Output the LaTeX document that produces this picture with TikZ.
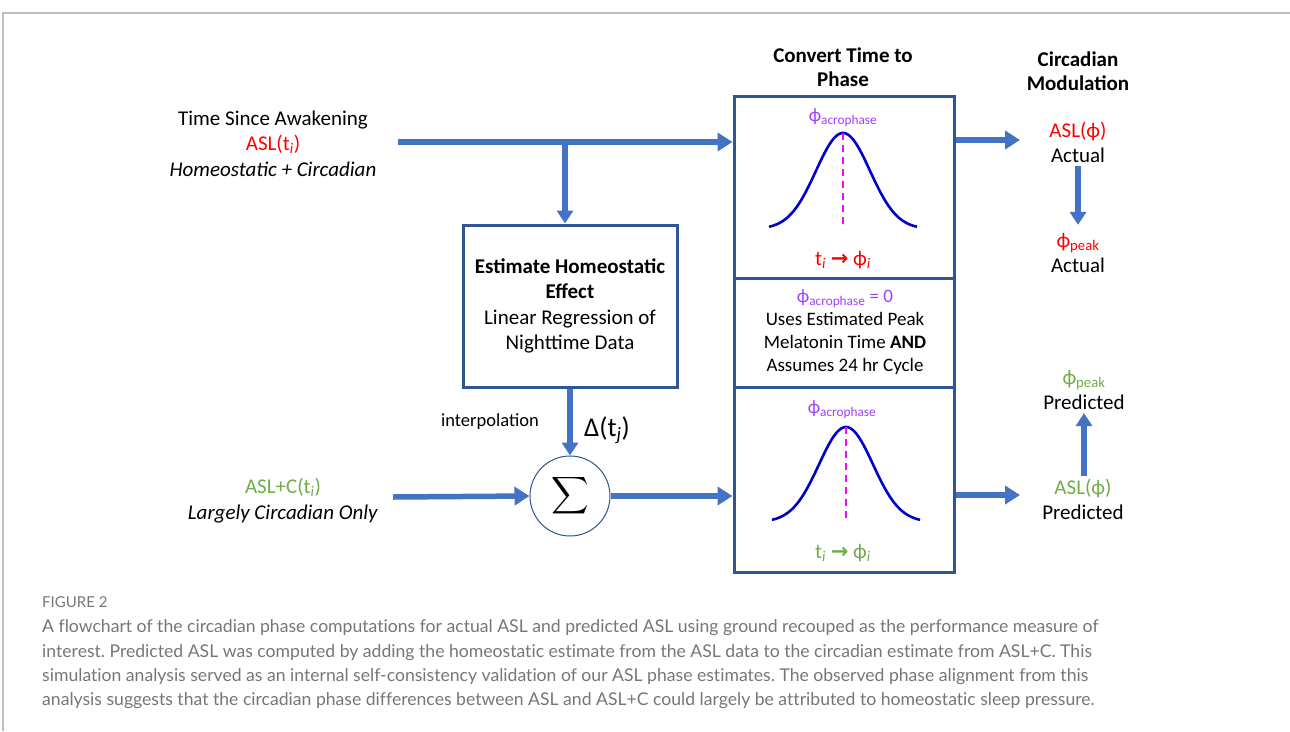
\documentclass[tikz,border=0pt]{standalone}
\usepackage{fontspec}
\setmainfont{Carlito}
\newfontfamily\dv{DejaVu Sans}
\newfontfamily\capfont[Ligatures={NoCommon,NoContextual,NoRequired}]{Lato}
\usetikzlibrary{arrows.meta}
\definecolor{flowblue}{RGB}{68,114,196}
\definecolor{boxblue}{RGB}{47,85,151}
\definecolor{myred}{RGB}{255,0,0}
\definecolor{mygreen}{RGB}{112,173,71}
\definecolor{mypurple}{RGB}{160,64,255}
\definecolor{mymag}{RGB}{255,0,255}
\definecolor{curveblue}{RGB}{0,0,204}
\definecolor{capgray}{RGB}{118,118,118}
\definecolor{rulegray}{RGB}{190,190,190}
\newcommand{\phs}{ϕ}
\newcommand{\arrw}{{\dv\bfseries →}}
\begin{document}
\begin{tikzpicture}[x=1pt,y=-1pt,
  flow/.style={draw=flowblue, line width=5.5pt, -{Triangle[length=15pt,width=18pt]}},
  vflow/.style={draw=flowblue, line width=5.5pt, -{Triangle[length=13pt,width=16pt]}},
  big/.style={font=\fontsize{21}{25.5}\selectfont, align=center, inner sep=0pt},
  mid/.style={font=\fontsize{19}{22.8}\selectfont, align=center, inner sep=0pt},
  phasebox/.style={draw=boxblue, line width=3pt, minimum width=220pt, inner sep=0pt},
  bell/.style={draw=curveblue, line width=2.6pt},
  peakline/.style={draw=mymag, line width=2.6pt, dash pattern=on 7pt off 5pt},
  capline/.style={font=\capfont\frenchspacing\fontsize{17.6}{21}\selectfont, text=capgray, anchor=west, inner sep=0pt}
]
\useasboundingbox (0,0) rectangle (1290,731);
% frame rules
\draw[rulegray, line width=1.2pt] (3,731) -- (3,13) -- (1290,13);

% left inputs
\node[big] (src1) at (273,143.5) {Time Since Awakening\\\textcolor{myred}{ASL(t\textsubscript{\textit{i}})}\\\textit{Homeostatic + Circadian}};
\node[big] (src2) at (283,500.5) {\textcolor{mygreen}{ASL+C(t\textsubscript{\textit{i}})}\\\textit{Largely Circadian Only}};

% estimate box
\node[draw=boxblue, line width=3pt, minimum width=214pt, minimum height=162pt, big] (est) at (570,306)
  {\textbf{Estimate Homeostatic}\\\textbf{Effect}\\Linear Regression of\\Nighttime Data};

% sum
\node[circle, draw=boxblue, line width=1pt, minimum size=80pt, inner sep=0pt, fill=white] (sum) at (570,496)
  {\scalebox{2.6}{$\displaystyle\sum$}};

\node[font=\fontsize{18.5}{22}\selectfont, inner sep=0pt] (interp) at (490,422) {interpolation};
\node[font=\fontsize{27}{30}\selectfont, inner sep=0pt] (delta) at (607,430) {Δ(t\textsubscript{\textit{j}})};

% headers
\node[big, font=\bfseries\fontsize{21}{24}\selectfont] (hconv) at (843,67) {Convert Time to\\Phase};
\node[big, font=\bfseries\fontsize{21}{24}\selectfont] (hcirc) at (1078,71) {Circadian\\Modulation};

% phase boxes
\node[phasebox, minimum height=182pt] (phaseTop) at (844,187) {};
\node[phasebox, minimum height=109pt] (phaseMid) at (844,332.5) {};
\node[phasebox, minimum height=185pt] (phaseBot) at (844,479.5) {};

% top box content
\node[mid, text=mypurple] (acT) at (843,118) {\phs\textsubscript{acrophase}};
\draw[bell] plot[domain=-1:1, samples=80, smooth] ({843+74*\x}, {229-96*exp(-(\x*\x)/0.266)});
\draw[peakline] (843,133) -- (843,229);
\node[big, text=myred] (mapT) at (843,260) {t\textsubscript{\textit{i}} \arrw{} \phs\textsubscript{\textit{i}}};

% middle box content
\node[mid] (midtxt) at (845,332) {\textcolor{mypurple}{\phs\textsubscript{acrophase} = 0}\\Uses Estimated Peak\\Melatonin Time \textbf{AND}\\Assumes 24 hr Cycle};

% bottom box content
\node[mid, text=mypurple] (acB) at (842,410) {\phs\textsubscript{acrophase}};
\draw[bell] plot[domain=-1:1, samples=80, smooth] ({846+74*\x}, {522-95*exp(-(\x*\x)/0.266)});
\draw[peakline] (846,427) -- (846,522);
\node[big, text=mygreen] (mapB) at (843,553) {t\textsubscript{\textit{i}} \arrw{} \phs\textsubscript{\textit{i}}};

% right outputs
\node[big] (aslA) at (1078,142.5) {\textcolor{myred}{ASL(\phs)}\\Actual};
\node[big] (peakA) at (1078,253) {\textcolor{myred}{\phs\textsubscript{peak}}\\Actual};
\node[big] (peakP) at (1084,390) {\textcolor{mygreen}{\phs\textsubscript{peak}}\\Predicted};
\node[big] (aslP) at (1083,499.5) {\textcolor{mygreen}{ASL(\phs)}\\Predicted};

% coordinates
\coordinate (in1) at (398,142);
\coordinate (br) at (565,142);
\coordinate (in2) at (393,497);
\coordinate (outA) at (1020,140);
\coordinate (outP) at (1020,495);

% connectors
\draw[flow] (in1) -- (in1 -| phaseTop.west);
\draw[vflow] (br) -- (br |- est.north);
\draw[vflow] (est.south) -- (sum.north);
\draw[flow] (in2) -- (sum.west);
\draw[flow] (sum.east) -- (sum.east -| phaseBot.west);
\draw[flow] (phaseTop.east |- outA) -- (outA);
\draw[flow] (phaseBot.east |- outP) -- (outP);
\draw[vflow, shorten <=3pt, shorten >=8pt] (aslA.south) -- (peakA.north);
\draw[vflow, shorten <=3pt, shorten >=3pt] (aslP.north -| peakP.south) -- (peakP.south);

% caption
\node[capline, font=\capfont\fontsize{15}{17}\selectfont] (figlab) at (42,602) {FIGURE 2};
\node[capline] (cap1) at (42,628) {A flowchart of the circadian phase computations for actual ASL and predicted ASL using ground recouped as the performance measure of};
\node[capline] (cap2) at (42,653) {interest. Predicted ASL was computed by adding the homeostatic estimate from the ASL data to the circadian estimate from ASL+C. This};
\node[capline] (cap3) at (42,677) {simulation analysis served as an internal self-consistency validation of our ASL phase estimates. The observed phase alignment from this};
\node[capline] (cap4) at (42,701) {analysis suggests that the circadian phase differences between ASL and ASL+C could largely be attributed to homeostatic sleep pressure.};
\end{tikzpicture}
\end{document}
